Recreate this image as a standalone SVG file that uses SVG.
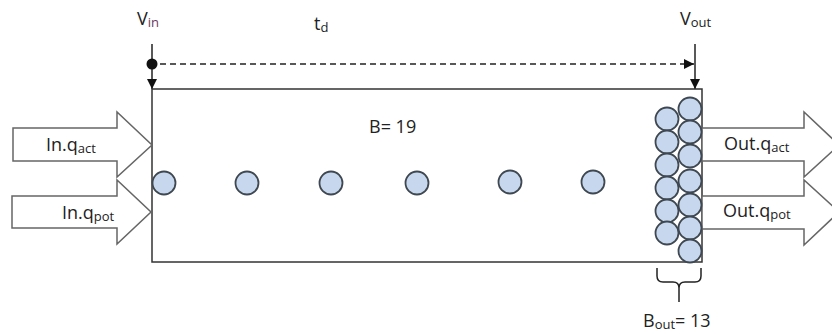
<svg xmlns="http://www.w3.org/2000/svg" width="832" height="334" viewBox="0 0 832 334">
<defs>
<style>
text{font-family:"Open Sans","Liberation Sans",sans-serif;fill:#222;}
.lbl{font-size:18px;}
.sub{font-size:13px;}
.ball{fill:#c6d7ee;stroke:#3f4750;stroke-width:1.8;}
.flow{fill:#fff;stroke:#666;stroke-width:1.5;}
.ln{stroke:#222;stroke-width:1.5;fill:none;}
</style>
<marker id="tri" viewBox="0 0 10 10" refX="10" refY="5" markerWidth="10" markerHeight="10" markerUnits="userSpaceOnUse" orient="auto">
<path d="M0,0 L10,5 L0,10 z" fill="#111"/>
</marker>
</defs>
<rect width="832" height="334" fill="#fff"/>

<g id="connectors">
<line class="ln" x1="152" y1="44" x2="152" y2="89" marker-end="url(#tri)"/>
<circle cx="152" cy="64" r="5.5" fill="#111"/>
<line class="ln" x1="160" y1="64" x2="694" y2="64" stroke-dasharray="6,4" marker-end="url(#tri)"/>
<line class="ln" x1="695" y1="44" x2="695" y2="89" marker-end="url(#tri)"/>
<path class="ln" d="M657,268 V276 Q657,282 663,282 H673 Q679,282 679,288 V302 M679,288 Q679,282 685,282 H695 Q701,282 701,276 V268" stroke="#444"/>
</g>

<g id="pipe">
<rect x="152" y="89" width="550" height="173" fill="#fff" stroke="#333" stroke-width="1.5"/>
</g>

<g id="in-qact">
<path class="flow" d="M13,128 H117 V112 L152,145 L117,177 V161 H13 Z"/>
<text class="lbl" x="46" y="151">In.q<tspan class="sub" dy="2">act</tspan></text>
</g>
<g id="in-qpot">
<path class="flow" d="M12,196 H117 V180 L151,212 L117,244 V228 H12 Z"/>
<text class="lbl" x="62" y="219">In.q<tspan class="sub" dy="2">pot</tspan></text>
</g>
<g id="out-qact">
<path class="flow" d="M702,128 H804 V112 L839,145 L804,177 V161 H702 Z"/>
<text class="lbl" x="724" y="150">Out.q<tspan class="sub" dy="2">act</tspan></text>
</g>
<g id="out-qpot">
<path class="flow" d="M702,196 H804 V180 L839,212 L804,245 V229 H702 Z"/>
<text class="lbl" x="723" y="217">Out.q<tspan class="sub" dy="2">pot</tspan></text>
</g>

<g id="balls">
<circle class="ball" cx="164" cy="183" r="11.5"/>
<circle class="ball" cx="247" cy="183" r="11.5"/>
<circle class="ball" cx="331" cy="183" r="11.5"/>
<circle class="ball" cx="417" cy="183" r="11.5"/>
<circle class="ball" cx="510" cy="182" r="11.5"/>
<circle class="ball" cx="593" cy="182" r="11.5"/>
</g>

<g id="queue">
<circle class="ball" cx="667" cy="119" r="11.5"/>
<circle class="ball" cx="667" cy="142" r="11.5"/>
<circle class="ball" cx="667" cy="165" r="11.5"/>
<circle class="ball" cx="667" cy="188" r="11.5"/>
<circle class="ball" cx="667" cy="211" r="11.5"/>
<circle class="ball" cx="667" cy="233" r="11.5"/>
<circle class="ball" cx="690" cy="109" r="11.5"/>
<circle class="ball" cx="690" cy="132" r="11.5"/>
<circle class="ball" cx="690" cy="156" r="11.5"/>
<circle class="ball" cx="690" cy="181" r="11.5"/>
<circle class="ball" cx="690" cy="205" r="11.5"/>
<circle class="ball" cx="690" cy="228" r="11.5"/>
<circle class="ball" cx="690" cy="251" r="11.5"/>
</g>

<g id="labels">
<text class="lbl" x="137" y="25">V<tspan class="sub" dy="2" style="fill:#6a3a5e">in</tspan></text>
<text class="lbl" x="680" y="25">V<tspan class="sub" dy="2">out</tspan></text>
<text class="lbl" x="314" y="30">t<tspan class="sub" dy="2">d</tspan></text>
<text class="lbl" x="369" y="133">B= 19</text>
<text class="lbl" x="643" y="327">B<tspan class="sub" dy="2">out</tspan><tspan dy="-2">= 13</tspan></text>
</g>
</svg>
